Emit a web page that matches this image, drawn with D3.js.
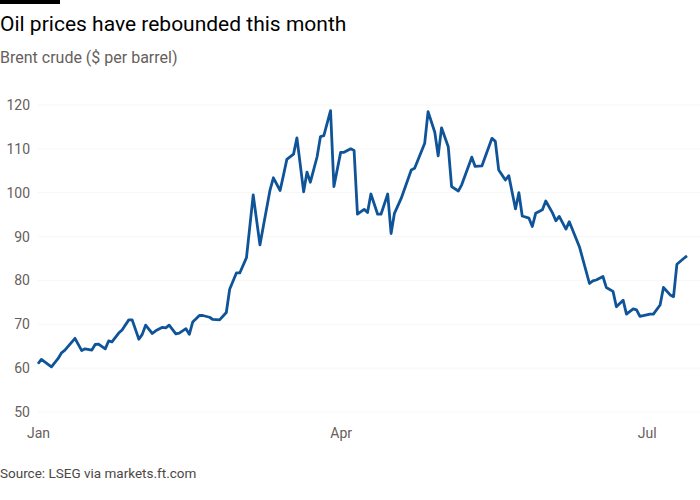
<!DOCTYPE html>
<html>
<head>
<meta charset="utf-8">
<script src="https://cdn.jsdelivr.net/npm/d3@7"></script>
<style>
  body { margin: 0; background: #fff; }
  text { font-family: Roboto, "Noto Sans", sans-serif; }
</style>
</head>
<body>
<div id="chart"></div>
<script>
// Brent crude, $ per barrel
var dates = [
  "01-01","01-02","01-05","01-07","01-08","01-09","01-12","01-14","01-15","01-17",
  "01-18","01-19","01-21","01-22","01-23","01-25","01-26","01-28","01-29","01-31",
  "02-01","02-02","02-04","02-05","02-07","02-08","02-09","02-11","02-12","02-14",
  "02-15","02-16","02-18","02-19","02-21","02-22","02-24","02-26","02-27","03-01",
  "03-02","03-04","03-06","03-08","03-09","03-11","03-12","03-14","03-15","03-16",
  "03-18","03-19","03-21","03-22","03-23","03-25","03-26","03-27","03-29","03-30",
  "04-01","04-02","04-04","04-05","04-06","04-08","04-09","04-10","04-12","04-13",
  "04-15","04-16","04-17","04-19","04-22","04-23","04-26","04-27","04-29","04-30",
  "05-01","05-03","05-04","05-06","05-07","05-10","05-11","05-13","05-16","05-17",
  "05-18","05-20","05-21","05-23","05-24","05-25","05-27","05-28","05-29","05-31",
  "06-01","06-03","06-04","06-05","06-07","06-08","06-11","06-14","06-15","06-16",
  "06-18","06-19","06-21","06-22","06-24","06-25","06-27","06-28","06-29","07-02",
  "07-03","07-05","07-06","07-08","07-09","07-10","07-12","07-13"
];
var prices = [
  61.0, 62.0, 60.3, 62.2, 63.5, 64.1, 66.8, 64.0, 64.4, 64.1,
  65.4, 65.5, 64.4, 66.2, 66.0, 68.0, 68.7, 71.0, 71.0, 66.6,
  67.7, 69.8, 67.9, 68.5, 69.3, 69.2, 69.8, 67.8, 68.0, 69.0,
  67.7, 70.5, 72.0, 72.0, 71.6, 71.1, 71.0, 72.7, 78.0, 81.7,
  81.7, 85.2, 99.5, 88.1, 92.3, 100.6, 103.4, 100.5, 104.0, 107.6,
  108.8, 112.5, 100.2, 104.7, 102.4, 108.2, 112.8, 113.0, 118.7, 101.4,
  109.2, 109.2, 110.0, 109.6, 95.1, 96.2, 95.5, 99.7, 95.1, 95.1,
  99.7, 90.7, 95.3, 98.7, 105.2, 105.6, 111.3, 118.5, 113.8, 108.4,
  114.8, 110.5, 101.4, 100.4, 101.8, 108.1, 106.0, 106.1, 112.4, 111.7,
  105.2, 102.9, 103.9, 96.3, 100.0, 94.7, 94.2, 92.3, 95.3, 96.1,
  98.1, 95.4, 93.6, 94.6, 91.7, 93.4, 87.7, 79.3, 79.9, 80.1,
  80.9, 78.4, 77.5, 74.0, 75.5, 72.3, 73.5, 73.3, 71.8, 72.3,
  72.3, 74.4, 78.4, 76.7, 76.3, 83.7, 85.0, 85.6
];
var yTicks = [50, 60, 70, 80, 90, 100, 110, 120];
var xTickLabels = ["Jan", "Apr", "Jul"];
var xTickDates = ["01-01", "04-01", "07-01"];

var year = "2023";
var parse = d3.timeParse("%Y-%m-%d");
var data = dates.map(function(d, i) {
  return { date: parse(year + "-" + d), value: prices[i] };
});

var svg = d3.select("#chart")
  .append("svg")
  .attr("width", 700)
  .attr("height", 500);

var x = d3.scaleTime()
  .domain([parse(year + "-01-01"), parse(year + "-07-13")])
  .range([38, 687]);

var y = d3.scaleLinear()
  .domain([50, 120])
  .range([412, 105]);

// top black bar
svg.append("rect")
  .attr("x", 0).attr("y", 0)
  .attr("width", 60).attr("height", 4)
  .attr("fill", "#000");

svg.append("text")
  .attr("x", 0)
  .attr("y", 31)
  .style("font-size", "21px")
  .style("fill", "#000")
  .text("Oil prices have rebounded this month");

svg.append("text")
  .attr("x", 0)
  .attr("y", 63)
  .style("font-size", "16px")
  .style("fill", "#66605c")
  .text("Brent crude ($ per barrel)");

// faint grid
svg.append("g")
  .selectAll("line")
  .data(yTicks)
  .join("line")
  .attr("x1", 38)
  .attr("x2", 700)
  .attr("y1", function(d) { return y(d); })
  .attr("y2", function(d) { return y(d); })
  .attr("stroke", "#f7f7f7")
  .attr("stroke-width", 1);

// y axis labels
var yAxis = svg.append("g")
  .attr("transform", "translate(30,0)")
  .call(d3.axisLeft(y).tickValues(yTicks).tickSize(0).tickPadding(0));
yAxis.select(".domain").remove();
yAxis.selectAll("text")
  .style("font-size", "14px")
  .style("fill", "#66605c")
  .style("font-family", "Roboto, 'Noto Sans', sans-serif");

// x axis labels
var xAxis = svg.append("g")
  .attr("transform", "translate(0,424)")
  .call(d3.axisBottom(x)
    .tickValues(xTickDates.map(function(d) { return parse(year + "-" + d); }))
    .tickFormat(function(d, i) { return xTickLabels[i]; })
    .tickSize(0).tickPadding(4));
xAxis.select(".domain").remove();
xAxis.selectAll("text")
  .style("font-size", "14px")
  .style("fill", "#66605c")
  .style("font-family", "Roboto, 'Noto Sans', sans-serif");

var line = d3.line()
  .x(function(d) { return x(d.date); })
  .y(function(d) { return y(d.value); });

svg.append("path")
  .datum(data)
  .attr("fill", "none")
  .attr("stroke", "#0f5499")
  .attr("stroke-width", 2.8)
  .attr("stroke-linejoin", "round")
  .attr("d", line);

svg.append("text")
  .attr("x", 0)
  .attr("y", 478)
  .style("font-size", "13.5px")
  .style("fill", "#4d4845")
  .text("Source: LSEG via markets.ft.com");
</script>
</body>
</html>
